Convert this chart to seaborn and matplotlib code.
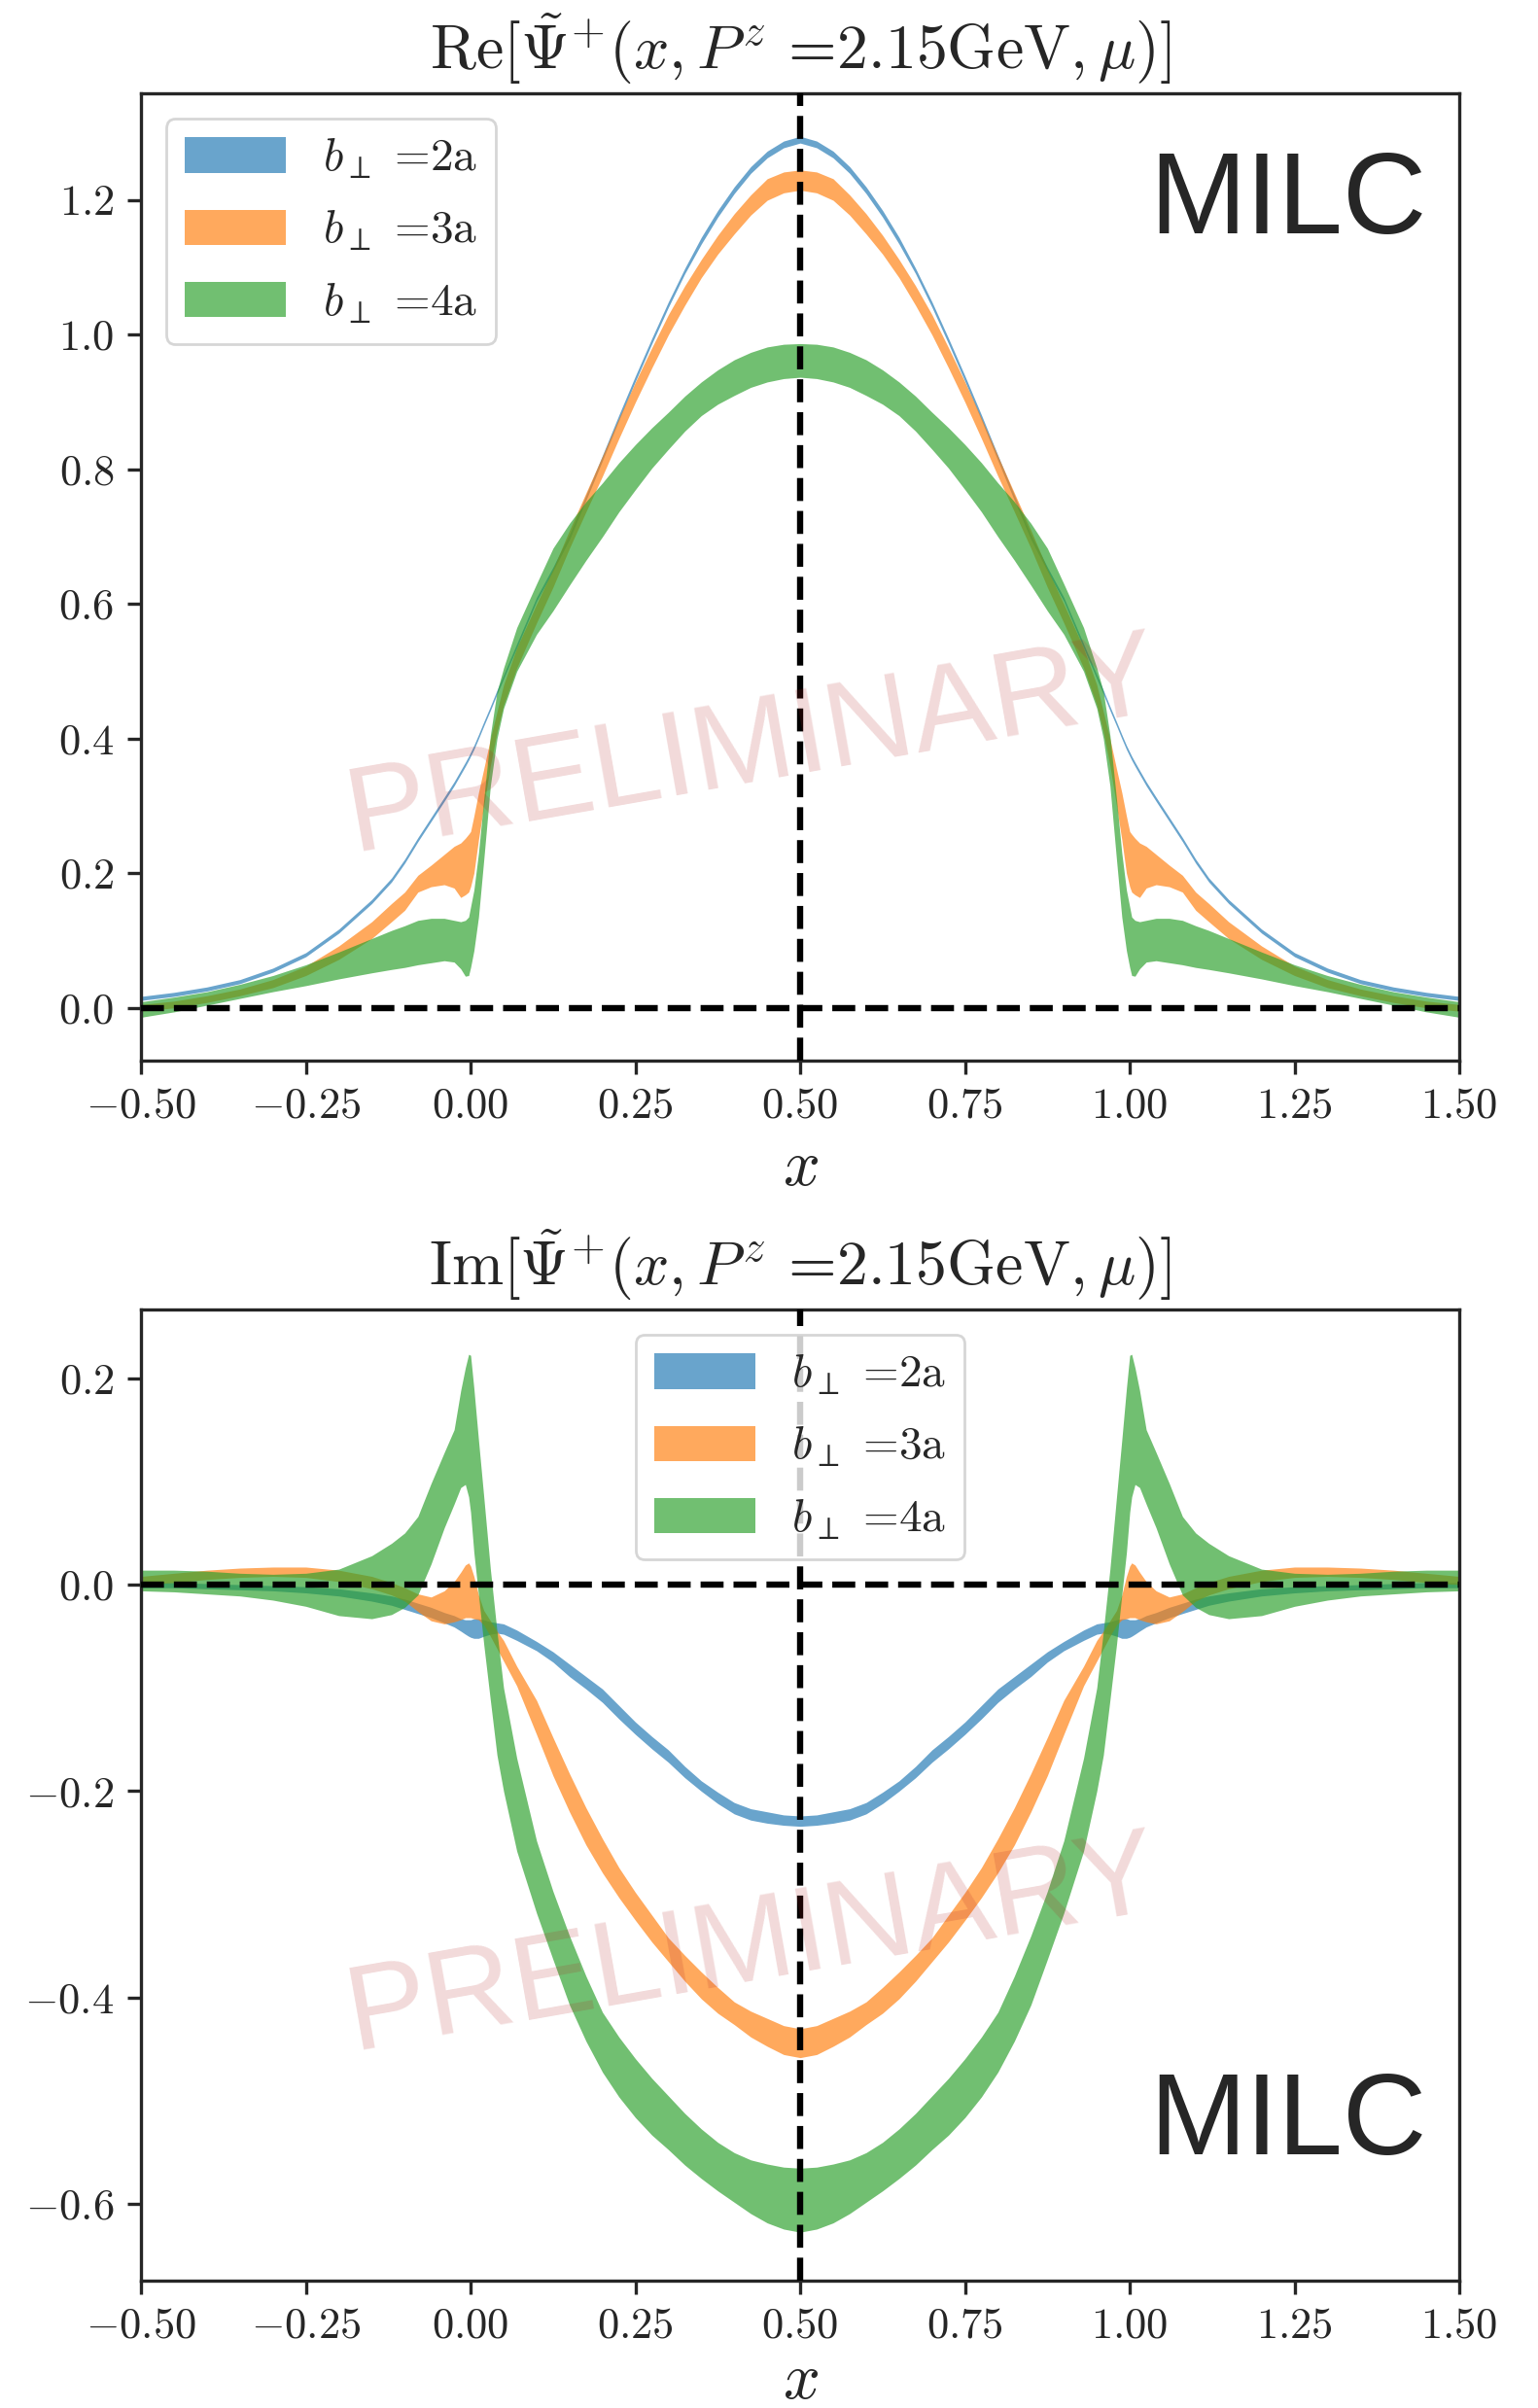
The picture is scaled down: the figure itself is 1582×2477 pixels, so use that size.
import numpy as np
import matplotlib
matplotlib.use("Agg")
import matplotlib.pyplot as plt
import seaborn as sns

# x grid for the left half (curves are mirror-symmetric about x = 0.5)
x_half = [-0.5, -0.45, -0.4, -0.35, -0.3, -0.25, -0.2, -0.15, -0.12, -0.1, -0.08, -0.06,
          -0.04, -0.025, -0.015, -0.008, -0.003, 0.0, 0.005, 0.012, 0.02, 0.03, 0.04, 0.05,
          0.07, 0.1, 0.125, 0.15, 0.175, 0.2, 0.225, 0.25, 0.275, 0.3, 0.325, 0.35, 0.375,
          0.4, 0.425, 0.45, 0.475, 0.5]

labels = [r'$b_{\perp}$ =2a', r'$b_{\perp}$ =3a', r'$b_{\perp}$ =4a']

# Re part, lower / upper edge of each band
re_2a_lo = [0.011, 0.017, 0.025, 0.036, 0.053, 0.076, 0.111, 0.155, 0.187, 0.215, 0.247, 0.277,
            0.307, 0.33, 0.347, 0.359, 0.368, 0.374, 0.384, 0.4, 0.419, 0.442, 0.466, 0.489,
            0.535, 0.604, 0.649, 0.696, 0.754, 0.813, 0.873, 0.931, 0.987, 1.041, 1.091, 1.135,
            1.175, 1.21, 1.24, 1.263, 1.278, 1.285]
re_2a_hi = [0.017, 0.023, 0.031, 0.042, 0.059, 0.082, 0.117, 0.161, 0.193, 0.221, 0.253, 0.283,
            0.313, 0.336, 0.353, 0.365, 0.374, 0.38, 0.39, 0.406, 0.425, 0.448, 0.472, 0.495,
            0.541, 0.61, 0.655, 0.704, 0.762, 0.821, 0.881, 0.939, 0.995, 1.049, 1.099, 1.145,
            1.185, 1.22, 1.25, 1.273, 1.288, 1.295]
re_3a_lo = [-0.005, 0.0, 0.008, 0.018, 0.03, 0.048, 0.072, 0.103, 0.128, 0.145, 0.172, 0.18,
            0.183, 0.178, 0.164, 0.168, 0.172, 0.18, 0.2, 0.25, 0.3, 0.36, 0.41, 0.45,
            0.505, 0.572, 0.625, 0.683, 0.737, 0.79, 0.846, 0.9, 0.951, 1.0, 1.044, 1.085,
            1.12, 1.15, 1.178, 1.2, 1.211, 1.215]
re_3a_hi = [0.005, 0.01, 0.018, 0.028, 0.042, 0.062, 0.092, 0.128, 0.155, 0.172, 0.197, 0.212,
            0.228, 0.24, 0.245, 0.252, 0.258, 0.262, 0.285, 0.32, 0.355, 0.4, 0.44, 0.48,
            0.535, 0.6, 0.652, 0.71, 0.765, 0.82, 0.876, 0.93, 0.981, 1.03, 1.073, 1.112,
            1.148, 1.18, 1.208, 1.232, 1.242, 1.245]
re_4a_lo = [-0.014, -0.006, 0.004, 0.014, 0.024, 0.033, 0.043, 0.052, 0.057, 0.06, 0.064, 0.067,
            0.07, 0.068, 0.058, 0.047, 0.048, 0.06, 0.085, 0.135, 0.22, 0.33, 0.4, 0.445,
            0.5, 0.555, 0.59, 0.628, 0.665, 0.7, 0.737, 0.77, 0.802, 0.83, 0.857, 0.88,
            0.897, 0.91, 0.922, 0.93, 0.935, 0.937]
re_4a_hi = [0.009, 0.016, 0.024, 0.035, 0.048, 0.064, 0.083, 0.103, 0.115, 0.122, 0.13, 0.133,
            0.133, 0.13, 0.128, 0.13, 0.135, 0.15, 0.175, 0.23, 0.31, 0.405, 0.47, 0.505,
            0.565, 0.63, 0.683, 0.72, 0.752, 0.78, 0.81, 0.837, 0.862, 0.885, 0.909, 0.93,
            0.948, 0.963, 0.974, 0.982, 0.986, 0.987]

# Im part
im_2a_lo = [-0.003, -0.003, -0.004, -0.005, -0.006, -0.008, -0.011, -0.016, -0.02, -0.024, -0.028, -0.032,
            -0.037, -0.041, -0.045, -0.048, -0.05, -0.051, -0.052, -0.052, -0.05, -0.048, -0.047, -0.048,
            -0.054, -0.064, -0.075, -0.089, -0.101, -0.114, -0.13, -0.145, -0.159, -0.172, -0.187, -0.2,
            -0.212, -0.222, -0.228, -0.231, -0.233, -0.234]
im_2a_hi = [0.002, 0.002, 0.001, 0.0, -0.001, -0.002, -0.004, -0.008, -0.011, -0.014, -0.018, -0.022,
            -0.027, -0.03, -0.033, -0.034, -0.034, -0.034, -0.033, -0.033, -0.034, -0.036, -0.037, -0.038,
            -0.044, -0.055, -0.065, -0.077, -0.089, -0.101, -0.117, -0.133, -0.147, -0.16, -0.176, -0.19,
            -0.201, -0.211, -0.217, -0.22, -0.223, -0.224]
im_3a_lo = [0.0, 0.002, 0.005, 0.007, 0.008, 0.007, 0.003, -0.004, -0.01, -0.016, -0.026, -0.035,
            -0.038, -0.036, -0.034, -0.032, -0.032, -0.032, -0.033, -0.034, -0.039, -0.05, -0.062, -0.074,
            -0.098, -0.145, -0.185, -0.22, -0.252, -0.279, -0.303, -0.325, -0.346, -0.365, -0.384, -0.401,
            -0.415, -0.426, -0.438, -0.447, -0.455, -0.458]
im_3a_hi = [0.008, 0.011, 0.014, 0.016, 0.017, 0.017, 0.014, 0.008, 0.002, -0.003, -0.009, -0.012,
            -0.006, 0.003, 0.012, 0.019, 0.021, 0.018, 0.008, -0.01, -0.025, -0.035, -0.045, -0.054,
            -0.079, -0.112, -0.148, -0.183, -0.216, -0.246, -0.274, -0.298, -0.32, -0.342, -0.359, -0.375,
            -0.39, -0.404, -0.413, -0.42, -0.427, -0.43]
im_4a_lo = [-0.006, -0.007, -0.009, -0.011, -0.015, -0.021, -0.03, -0.033, -0.029, -0.022, -0.01, 0.02,
            0.055, 0.078, 0.094, 0.097, 0.085, 0.07, 0.031, -0.01, -0.058, -0.112, -0.165, -0.2,
            -0.258, -0.318, -0.363, -0.407, -0.442, -0.472, -0.496, -0.516, -0.533, -0.547, -0.562, -0.575,
            -0.587, -0.598, -0.609, -0.618, -0.624, -0.627]
im_4a_hi = [0.014, 0.014, 0.013, 0.011, 0.01, 0.011, 0.015, 0.028, 0.04, 0.05, 0.066, 0.098,
            0.128, 0.15, 0.188, 0.21, 0.223, 0.222, 0.19, 0.14, 0.085, 0.015, -0.045, -0.1,
            -0.168, -0.248, -0.297, -0.34, -0.379, -0.414, -0.438, -0.459, -0.478, -0.495, -0.512, -0.527,
            -0.54, -0.55, -0.557, -0.561, -0.564, -0.565]


def mirror_x(xs):
    xs = np.asarray(xs)
    return np.concatenate([xs, 1.0 - xs[-2::-1]])


def mirror_y(ys):
    ys = np.asarray(ys)
    return np.concatenate([ys, ys[-2::-1]])


sns.set_style("ticks")
plt.rcParams.update({
    'font.family': 'serif',
    'font.serif': ['cmr10'],
    'mathtext.fontset': 'cm',
    'axes.formatter.use_mathtext': True,
    'axes.linewidth': 1.2,
    'xtick.major.size': 5,
    'ytick.major.size': 5,
    'xtick.major.width': 1.2,
    'ytick.major.width': 1.2,
    'xtick.direction': 'out',
    'ytick.direction': 'out',
})

colors = sns.color_palette('tab10')[:3]
x_full = mirror_x(x_half)

fig = plt.figure(figsize=(7.91, 12.385), dpi=200)
ax1 = fig.add_axes([0.0917, 0.5595, 0.8571, 0.4017])
ax2 = fig.add_axes([0.0917, 0.0529, 0.8571, 0.4033])

re_bands = [(re_2a_lo, re_2a_hi), (re_3a_lo, re_3a_hi), (re_4a_lo, re_4a_hi)]
im_bands = [(im_2a_lo, im_2a_hi), (im_3a_lo, im_3a_hi), (im_4a_lo, im_4a_hi)]

for ax, bands, part, leg_loc, milc_y, prel_y, ylim, yticks, lpad in [
        (ax1, re_bands, 'Re', 'upper left', 0.886, 0.323, (-0.0786, 1.3587),
         np.arange(0, 1.21, 0.2), 5),
        (ax2, im_bands, 'Im', 'upper center', 0.161, 0.344, (-0.6739, 0.2664),
         np.arange(-0.6, 0.21, 0.2), 2.5)]:
    for (lo, hi), c, lab in zip(bands, colors, labels):
        ax.fill_between(x_full, mirror_y(lo), mirror_y(hi), color=c, alpha=0.67,
                        linewidth=0, label=lab)
    ax.axhline(0.0, color='k', ls='--', lw=2.3, zorder=3)
    ax.axvline(0.5, color='k', ls='--', lw=2.3, zorder=3)
    ax.set_xlim(-0.5, 1.5)
    ax.set_ylim(*ylim)
    ax.set_xticks(np.arange(-0.5, 1.51, 0.25))
    ax.set_yticks(yticks)
    ax.tick_params(labelsize=16, pad=5)
    ax.set_xlabel(r'$x$', fontsize=24, labelpad=lpad)
    ax.set_title(part + r'$[\tilde{\Psi}^{+}(x,P^z$ =2.15GeV$,\mu)]$', fontsize=23, pad=9)
    ax.legend(loc=leg_loc, fontsize=17, handlelength=2.2, handleheight=0.8,
              labelspacing=0.62, handletextpad=0.8, borderaxespad=0.55)
    ax.text(0.87, milc_y, 'MILC', transform=ax.transAxes, ha='center', va='center',
            fontsize=43, family='Liberation Sans', zorder=6)
    ax.text(0.464, prel_y, 'PRELIMINARY', transform=ax.transAxes, ha='center', va='center',
            rotation=10, fontsize=45, family='Liberation Sans', color='firebrick',
            alpha=0.17, zorder=4)

fig.savefig('out.png', dpi=200)
